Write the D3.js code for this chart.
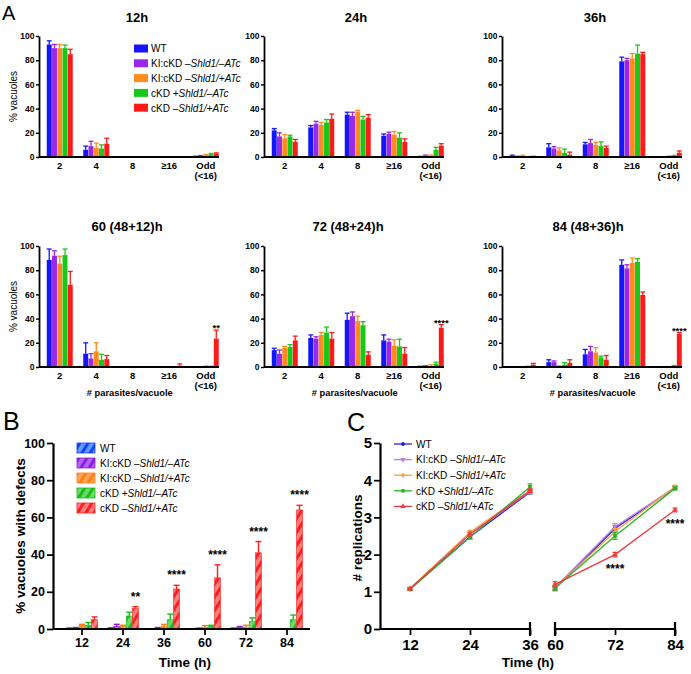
<!DOCTYPE html>
<html><head><meta charset="utf-8">
<script src="https://cdn.jsdelivr.net/npm/d3@7"></script>
<style>body{margin:0;background:#fff}svg{display:block;font-family:"Liberation Sans",Arial,Helvetica,sans-serif}</style>
</head><body><svg id="fig" width="691" height="674"></svg>
<script>
// ---------- DATA ----------
const seriesNames = ["WT", "KI:cKD", "KI:cKD", "cKD", "cKD"];
const seriesItalic = ["", "–Shld1/–ATc", "–Shld1/+ATc", "+Shld1/–ATc", "–Shld1/+ATc"];
const colorsA = ["#1414ff", "#9a28e6", "#ff8a1e", "#18c818", "#ff1a1a"];
const hatchBg = ["#5a9cff", "#b463f0", "#ffa45c", "#6ed86e", "#ff7f7f"];
const hatchFg = ["#1a3cff", "#8a1ee0", "#ff7f14", "#16bf16", "#ff1e1e"];
const colorsC = ["#2020d8", "#c07ce6", "#f5a040", "#28b428", "#f03c3c"];

const categoriesA = ["2", "4", "8", "≥16", "Odd (<16)"];
const ticksA = [0, 20, 40, 60, 80, 100];
const titlesA = ["12h", "24h", "36h", "60 (48+12)h", "72 (48+24)h", "84 (48+36)h"];

// values: [series][category]
const a12v = [[93, 6, 0, 0, 0.3], [90, 9, 0, 0, 0.8], [90, 7.5, 0, 0, 1.5], [90, 7, 0, 0, 2.3], [85, 11, 0, 0, 2.8]];
const a12e = [[3, 3, 0, 0, 0.3], [3, 4, 0, 0, 0.4], [3, 4, 0, 0, 0.5], [2.5, 3, 0, 0, 0.6], [4, 4.5, 0, 0, 0.6]];
const a24v = [[22, 24.5, 35, 17.5, 0.2], [17, 27.5, 34, 19, 1], [15.5, 26.5, 37.5, 18.5, 0.8], [17, 28.5, 31, 16, 6], [12.5, 31.5, 32.5, 12.5, 9.5]];
const a24e = [[1.5, 1.5, 2, 1.5, 0.3], [3, 2, 3, 1.5, 0.6], [3, 2, 1, 2.5, 0.8], [1, 2.5, 2.5, 4, 2], [2, 4, 2.5, 2.5, 1.5]];
const a36v = [[0.5, 8, 10.5, 79, 0], [0.3, 7, 11.5, 80, 0], [0.5, 5.5, 10, 81.5, 0.4], [0, 3.5, 9, 85.5, 0.8], [0.3, 2, 7.5, 85, 3.5]];
const a36e = [[1, 3, 1.5, 3.5, 0], [0.3, 1.5, 3, 1.5, 0], [1, 2, 2, 4, 0.4], [0, 3, 3.5, 7, 0.5], [0.3, 2, 1.5, 1.5, 1.5]];
const a60v = [[88.5, 11, 0, 0, 0], [92, 7, 0, 0, 0], [85.5, 13, 0, 0, 0.5], [92.5, 6, 0, 0, 0.3], [68, 6.5, 0, 1, 23.5]];
const a60e = [[9, 9, 0, 0, 0], [4, 4, 0, 0, 0], [6, 7, 0, 0, 0.3], [5, 4.5, 0, 0, 0.3], [11, 3, 0, 1.5, 7]];
const a72v = [[14, 24, 39, 22, 0.3], [11, 23.5, 42, 21, 0.5], [16, 26.5, 38, 17.5, 0.8], [16.5, 28.5, 34.5, 17, 2.5], [22, 23.5, 10, 11, 32.5]];
const a72e = [[1.5, 2.5, 5.5, 4.5, 0.3], [3, 1.5, 3.5, 2, 0.5], [1, 2, 4, 5, 1], [2, 4.5, 3, 6, 1.5], [3.5, 5, 2.5, 5, 2.5]];
const a84v = [[0, 4, 10.5, 84.5, 0], [0, 4, 13, 81.5, 0], [0, 0.5, 12, 86, 0], [0.3, 2, 8, 87, 0.8], [2, 3.5, 6, 59.5, 27.5]];
const a84e = [[0, 2, 4, 4, 0], [0, 1, 4, 3, 0], [0, 0.5, 4, 4, 0], [0.3, 1.5, 1, 2.5, 0.4], [1, 2.5, 3.5, 2.5, 1]];
const starsA = ["", "", "", "**", "****", "****"]; // on cKD –Shld1/+ATc, Odd

const categoriesB = ["12", "24", "36", "60", "72", "84"];
const ticksB = [0, 20, 40, 60, 80, 100];
const bVals = [[0.3, 0.3, 0, 0, 0.3, 0], [0.5, 1.5, 0.5, 0.3, 0.8, 0], [2, 1.5, 1.5, 1, 1, 0], [2, 7, 5, 1.5, 4, 5], [5, 11, 21.5, 27.5, 41, 64]];
const bErrs = [[0.2, 0.3, 0, 0, 0.2, 0], [0.3, 1, 0.3, 0.2, 0.5, 0], [0.5, 0.5, 1, 0.8, 1, 0], [1.5, 2, 3, 0.5, 2, 2.5], [1.5, 1, 2, 7, 6, 2.5]];
const starsB = ["", "**", "****", "****", "****", "****"];

const timesLeft = [12, 24, 36];
const timesRight = [60, 72, 84];
const ticksC = [0, 1, 2, 3, 4, 5];
const cLeft = [[1.07, 2.48, 3.68], [1.08, 2.55, 3.70], [1.09, 2.60, 3.72], [1.07, 2.47, 3.82], [1.08, 2.55, 3.72]];
const cLeftErr = [[0.03, 0.05, 0.05], [0.03, 0.05, 0.05], [0.03, 0.05, 0.05], [0.03, 0.05, 0.08], [0.03, 0.05, 0.05]];
const cRight = [[1.08, 2.70, 3.80], [1.12, 2.75, 3.80], [1.10, 2.62, 3.82], [1.10, 2.50, 3.78], [1.20, 2.00, 3.20]];
const cRightErr = [[0.05, 0.08, 0.04], [0.05, 0.08, 0.04], [0.05, 0.08, 0.04], [0.05, 0.09, 0.04], [0.07, 0.06, 0.05]];
const starsC = ["", "****", "****"]; // cKD –Shld1/+ATc, right segment

// ---------- DRAW ----------
const svg = d3.select("#fig");
const defs = svg.append("defs");
hatchBg.forEach((bg, i) => {
  const p = defs.append("pattern").attr("id", "h" + i).attr("patternUnits", "userSpaceOnUse")
    .attr("width", 7).attr("height", 7).attr("patternTransform", "rotate(32)");
  p.append("rect").attr("width", 7).attr("height", 7).attr("fill", bg);
  p.append("rect").attr("width", 3).attr("height", 7).attr("fill", hatchFg[i]);
});

function legendLabel(t, i) {
  t.append("tspan").text(seriesNames[i] + (seriesItalic[i] ? " " : ""));
  if (seriesItalic[i]) t.append("tspan").attr("font-style", "italic").text(seriesItalic[i]);
}
function styleAxis(g, fs, sw) {
  g.selectAll("path.domain").attr("stroke", "#000").attr("stroke-width", sw);
  g.selectAll(".tick line").attr("stroke", "#000").attr("stroke-width", sw * 0.8);
  g.selectAll(".tick text").attr("fill", "#000").attr("font-size", fs).attr("font-weight", "bold")
    .attr("font-family", '"Liberation Sans",Arial,sans-serif');
}

// Panel letters
svg.append("text").attr("x", 2).attr("y", 20).attr("font-size", 20).text("A");
svg.append("text").attr("x", 3).attr("y", 430).attr("font-size", 25).text("B");
svg.append("text").attr("x", 347).attr("y", 431).attr("font-size", 25).text("C");

// ----- Panel A -----
const panelsA = [[a12v, a12e], [a24v, a24e], [a36v, a36e], [a60v, a60e], [a72v, a72e], [a84v, a84e]];
const colX = [39, 264, 502];
const rowY0 = [157, 367];
const titleX = [137, 356, 595, 127, 348, 588];
panelsA.forEach((pd, k) => {
  const col = k % 3, row = Math.floor(k / 3);
  const ax = colX[col], y0 = rowY0[row];
  const g = svg.append("g");
  const y = d3.scaleLinear().domain([0, 100]).range([y0, y0 - 121]);
  const x = d3.scaleBand().domain(categoriesA).range([ax + 2.5, ax + 185]);
  const gw = 26;
  const xs = d3.scaleBand().domain(d3.range(5)).range([0, gw]).paddingInner(0.06);
  pd[0].forEach((sv, s) => {
    sv.forEach((v, ci) => {
      const bx = x(categoriesA[ci]) + (x.bandwidth() - gw) / 2 + xs(s);
      const bw = xs.bandwidth();
      if (v > 0) g.append("rect").attr("x", bx).attr("y", y(v)).attr("width", bw)
        .attr("height", y(0) - y(v)).attr("fill", colorsA[s]);
      const e = pd[1][s][ci];
      if (e > 0) {
        const cx = bx + bw / 2;
        g.append("line").attr("x1", cx).attr("x2", cx).attr("y1", y(v)).attr("y2", y(v + e))
          .attr("stroke", colorsA[s]).attr("stroke-width", 1.3);
        g.append("line").attr("x1", bx).attr("x2", bx + bw).attr("y1", y(v + e)).attr("y2", y(v + e))
          .attr("stroke", colorsA[s]).attr("stroke-width", 1.3);
      }
      if (s === 4 && ci === 4 && starsA[k]) {
        g.append("text").attr("x", bx + bw / 2).attr("y", y(v + e) + 1).attr("text-anchor", "middle")
          .attr("font-size", 9.5).attr("font-weight", "bold").text(starsA[k]);
      }
    });
  });
  const ya = g.append("g").attr("transform", `translate(${ax},0)`)
    .call(d3.axisLeft(y).tickValues(ticksA).tickSize(3).tickSizeOuter(0).tickPadding(1.5));
  styleAxis(ya, 8.5, 1.8);
  // x axis
  g.append("line").attr("x1", ax).attr("x2", ax + 180).attr("y1", y0).attr("y2", y0)
    .attr("stroke", "#000").attr("stroke-width", 1.8);
  categoriesA.forEach(c => {
    const cx = x(c) + x.bandwidth() / 2;
    const parts = c.split(" ");
    parts.forEach((pt, j) => {
      g.append("text").attr("x", cx).attr("y", y0 + 11.5 + j * 10.5).attr("text-anchor", "middle")
        .attr("font-size", 9.5).attr("font-weight", "bold").text(pt);
    });
  });
  g.append("text").attr("x", titleX[k]).attr("y", (row ? 230.5 : 21.5)).attr("text-anchor", "middle")
    .attr("font-size", 13).attr("font-weight", "bold").text(titlesA[k]);
  if (col === 0) {
    g.append("text").attr("transform", `translate(17,${(y(0) + y(100)) / 2}) rotate(-90)`)
      .attr("text-anchor", "middle").attr("font-size", 10).text("% vacuoles");
  }
  if (row === 1) {
    g.append("text").attr("x", x("8") + x.bandwidth() / 2 - 3).attr("y", 395.5).attr("text-anchor", "middle")
      .attr("font-size", 9.3).attr("font-weight", "bold").text("# parasites/vacuole");
  }
});
// legend A
const legA = svg.append("g");
seriesNames.forEach((n, i) => {
  const yy = 48.5 + i * 14.8;
  legA.append("rect").attr("x", 134).attr("y", yy - 4).attr("width", 14).attr("height", 8).attr("fill", colorsA[i]);
  const t = legA.append("text").attr("x", 151).attr("y", yy + 3.8).attr("font-size", 10);
  legendLabel(t, i);
});

// ----- Panel B -----
const gB = svg.append("g");
const yB = d3.scaleLinear().domain([0, 100]).range([629, 443]);
const xB = d3.scaleBand().domain(categoriesB).range([61.5, 307.5]);
const gwB = 31;
const xBs = d3.scaleBand().domain(d3.range(5)).range([0, gwB]).paddingInner(0.04);
bVals.forEach((sv, s) => {
  sv.forEach((v, ci) => {
    const bx = xB(categoriesB[ci]) + (xB.bandwidth() - gwB) / 2 + xBs(s);
    const bw = xBs.bandwidth();
    if (v > 0) gB.append("rect").attr("x", bx).attr("y", yB(v)).attr("width", bw)
      .attr("height", yB(0) - yB(v)).attr("fill", `url(#h${s})`).attr("stroke", hatchFg[s]).attr("stroke-width", 0.6);
    const e = bErrs[s][ci];
    if (e > 0) {
      const cx = bx + bw / 2;
      gB.append("line").attr("x1", cx).attr("x2", cx).attr("y1", yB(v)).attr("y2", yB(v + e))
        .attr("stroke", hatchFg[s]).attr("stroke-width", 1.4);
      gB.append("line").attr("x1", bx).attr("x2", bx + bw).attr("y1", yB(v + e)).attr("y2", yB(v + e))
        .attr("stroke", hatchFg[s]).attr("stroke-width", 1.4);
    }
    if (s === 4 && starsB[ci]) {
      gB.append("text").attr("x", bx + bw / 2).attr("y", yB(v + e) - 6).attr("text-anchor", "middle")
        .attr("font-size", 12).attr("font-weight", "bold").text(starsB[ci]);
    }
  });
});
const yaB = gB.append("g").attr("transform", "translate(53,0)")
  .call(d3.axisLeft(yB).tickValues(ticksB).tickSize(6).tickSizeOuter(0).tickPadding(2));
styleAxis(yaB, 12.5, 2.2);
const xaB = gB.append("g").attr("transform", "translate(0,629)")
  .call(d3.axisBottom(xB).tickSize(6).tickSizeOuter(0).tickPadding(3));
xaB.select("path.domain").remove();
styleAxis(xaB, 12.5, 2.2);
gB.append("line").attr("x1", 53).attr("x2", 310).attr("y1", 629).attr("y2", 629).attr("stroke", "#000").attr("stroke-width", 2.2);
gB.append("text").attr("transform", "translate(25,536) rotate(-90)").attr("text-anchor", "middle")
  .attr("font-size", 13.5).attr("font-weight", "bold").text("% vacuoles with defects");
gB.append("text").attr("x", 185).attr("y", 667).attr("text-anchor", "middle")
  .attr("font-size", 13.5).attr("font-weight", "bold").text("Time (h)");
seriesNames.forEach((n, i) => {
  const yy = 448 + i * 15;
  gB.append("rect").attr("x", 77).attr("y", yy - 5).attr("width", 18).attr("height", 10)
    .attr("fill", `url(#h${i})`).attr("stroke", hatchFg[i]).attr("stroke-width", 0.8);
  const t = gB.append("text").attr("x", 100).attr("y", yy + 3.8).attr("font-size", 10);
  legendLabel(t, i);
});

// ----- Panel C -----
const gC = svg.append("g");
const yC = d3.scaleLinear().domain([0, 5]).range([629, 443]);
const xCL = d3.scaleLinear().domain([6, 36]).range([380, 530]);
const xCR = d3.scaleLinear().domain([60, 84]).range([555, 675]);
const symbols = [d3.symbolCircle, d3.symbolTriangle, d3.symbolCross, d3.symbolSquare, d3.symbolTriangle];
const symRot = [0, 180, 0, 0, 0];
function drawSeg(times, vals, errs, xs) {
  vals.forEach((sv, s) => {
    const line = d3.line().x((d, j) => xs(times[j])).y(d => yC(d));
    gC.append("path").attr("d", line(sv)).attr("fill", "none").attr("stroke", colorsC[s]).attr("stroke-width", 1.3);
  });
  vals.forEach((sv, s) => {
    sv.forEach((v, j) => {
      const px = xs(times[j]), e = errs[s][j];
      gC.append("line").attr("x1", px).attr("x2", px).attr("y1", yC(v - e)).attr("y2", yC(v + e)).attr("stroke", colorsC[s]).attr("stroke-width", 1.2);
      [v - e, v + e].forEach(w => gC.append("line").attr("x1", px - 2.5).attr("x2", px + 2.5).attr("y1", yC(w)).attr("y2", yC(w)).attr("stroke", colorsC[s]).attr("stroke-width", 1.2));
      gC.append("path").attr("d", d3.symbol().type(symbols[s]).size(14)())
        .attr("transform", `translate(${px},${yC(v)}) rotate(${symRot[s]})`).attr("fill", colorsC[s]);
    });
  });
}
drawSeg(timesLeft, cLeft, cLeftErr, xCL);
drawSeg(timesRight, cRight, cRightErr, xCR);
starsC.forEach((st, j) => {
  if (!st) return;
  const v = cRight[4][j];
  gC.append("text").attr("x", xCR(timesRight[j])).attr("y", yC(v) + 18).attr("text-anchor", "middle")
    .attr("font-size", 12).attr("font-weight", "bold").text(st);
});
const yaC = gC.append("g").attr("transform", "translate(380,0)")
  .call(d3.axisLeft(yC).tickValues(ticksC).tickFormat(d3.format("d")).tickSize(6).tickSizeOuter(0).tickPadding(2));
styleAxis(yaC, 15, 2.2);
[[xCL, timesLeft], [xCR, timesRight]].forEach(([xs, tv]) => {
  const a = gC.append("g").attr("transform", "translate(0,629)")
    .call(d3.axisBottom(xs).tickValues(tv).tickFormat(d3.format("d")).tickSize(6).tickSizeOuter(0).tickPadding(4));
  a.select("path.domain").remove();
  styleAxis(a, 15, 2.2);
  const r = xs.range();
  gC.append("line").attr("x1", r[0]).attr("x2", r[1]).attr("y1", 629).attr("y2", 629).attr("stroke", "#000").attr("stroke-width", 2.2);
});
[xCL.range()[1], xCR.range()[0], xCR.range()[1]].forEach(px => {
  gC.append("line").attr("x1", px).attr("x2", px).attr("y1", 622).attr("y2", 636).attr("stroke", "#000").attr("stroke-width", 2.2);
});
gC.append("text").attr("transform", "translate(362,538) rotate(-90)").attr("text-anchor", "middle")
  .attr("font-size", 13.5).attr("font-weight", "bold").text("# replications");
gC.append("text").attr("x", 528).attr("y", 667).attr("text-anchor", "middle")
  .attr("font-size", 13.5).attr("font-weight", "bold").text("Time (h)");
seriesNames.forEach((n, i) => {
  const yy = 444 + i * 15.6;
  gC.append("line").attr("x1", 394).attr("x2", 412).attr("y1", yy).attr("y2", yy).attr("stroke", colorsC[i]).attr("stroke-width", 1.3);
  gC.append("path").attr("d", d3.symbol().type(symbols[i]).size(12)())
    .attr("transform", `translate(403,${yy}) rotate(${symRot[i]})`).attr("fill", colorsC[i]);
  const t = gC.append("text").attr("x", 416).attr("y", yy + 3.8).attr("font-size", 10);
  legendLabel(t, i);
});
</script></body></html>
